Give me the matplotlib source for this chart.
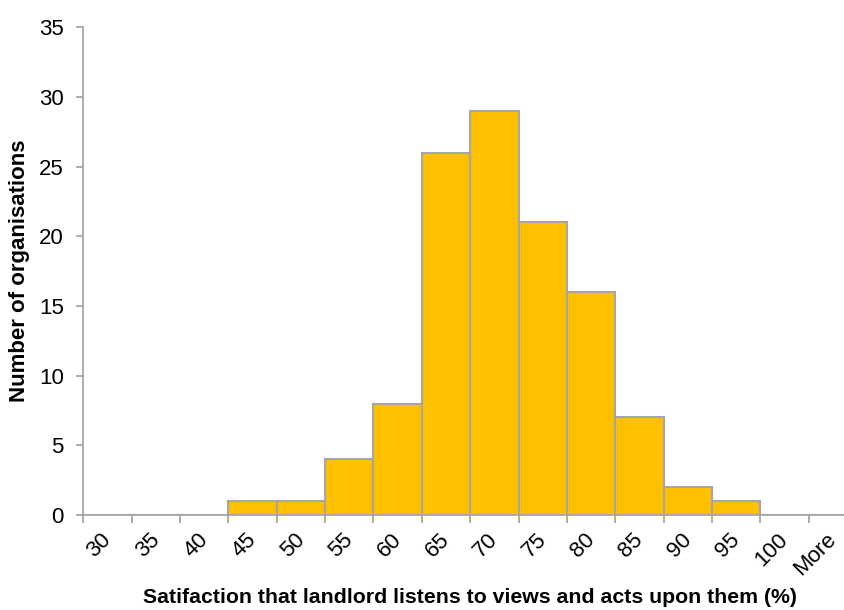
import matplotlib
matplotlib.use("Agg")
import matplotlib.pyplot as plt
import matplotlib.transforms as mtransforms
import numpy as np

plt.rcParams['font.family'] = ['Liberation Sans', 'DejaVu Sans']

categories = ["30", "35", "40", "45", "50", "55", "60", "65", "70", "75", "80", "85", "90", "95", "100", "More"]
counts = [0, 0, 0, 1, 1, 4, 8, 26, 29, 21, 16, 7, 2, 1, 0, 0]
y_ticks = [0, 5, 10, 15, 20, 25, 30, 35]

W, H = 845, 610
fig = plt.figure(figsize=(W / 100, H / 100), dpi=100)
left_px, right_px, bottom_px, top_px = 83.3, 857.0, 515.0, 27.3
ax = fig.add_axes([left_px / W, 1 - bottom_px / H, (right_px - left_px) / W, (bottom_px - top_px) / H])

x = np.arange(len(categories))
ax.bar(x, counts, width=1.0, color="#FFC000", edgecolor="#A6A6A6", linewidth=1.5, zorder=3)

ax.set_xlim(-0.5, len(categories) - 0.5)
ax.set_ylim(0, 35)
ax.set_yticks(y_ticks)
ax.tick_params(axis='y', direction='out', length=5, width=1.2, color="#A0A0A0", labelsize=16, pad=9)

ax.set_xticks(np.arange(-0.5, len(categories) + 0.5, 1.0))
ax.set_xticklabels([])
ax.tick_params(axis='x', direction='out', length=6, width=1.2, color="#A0A0A0")

trans = mtransforms.offset_copy(ax.get_xaxis_transform(), fig=fig, x=8, y=-14, units='dots')
for xi, lab in zip(x, categories):
    ax.text(xi, 0, lab, transform=trans, rotation=45, ha='right', va='top',
            rotation_mode='default', fontsize=16, clip_on=False)

for s in ['top', 'right']:
    ax.spines[s].set_visible(False)
for s in ['left', 'bottom']:
    ax.spines[s].set_color("#A0A0A0")
    ax.spines[s].set_linewidth(1.2)

fig.text(20 / W, 1 - ((top_px + bottom_px) / 2) / H, "Number of organisations", rotation=90,
         ha='center', va='center', fontsize=16, fontweight='bold')
fig.text(((left_px + right_px) / 2) / W, 1 - 603 / H,
         "Satifaction that landlord listens to views and acts upon them (%)",
         ha='center', va='baseline', fontsize=15.3, fontweight='bold')

fig.savefig("out.png", dpi=100)
